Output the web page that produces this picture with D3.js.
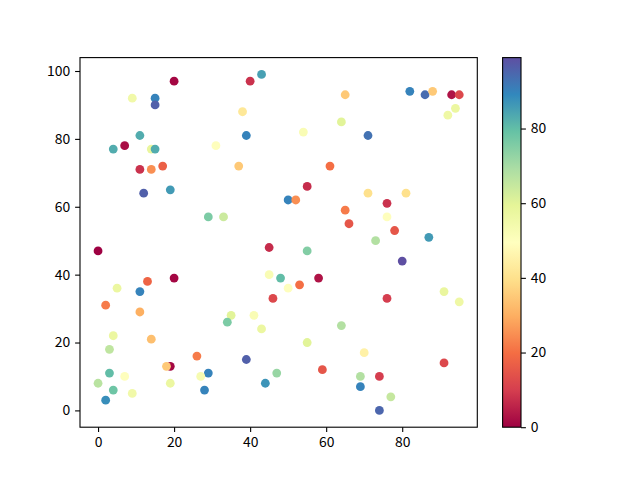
<!DOCTYPE html>
<html><head><meta charset="utf-8">
<script src="https://cdn.jsdelivr.net/npm/d3@7/dist/d3.min.js"></script>
<style>
html,body{margin:0;padding:0;background:#fff;}
text{font-family:"Noto Sans CJK SC","DejaVu Sans",sans-serif;}
</style></head>
<body><svg id="chart" width="640" height="480"></svg>
<script>
const xs = [20,40,43,9,15,15,38,11,39,7,4,14,15,31,11,14,17,37,65,82,86,88,93,95,94,92,64,54,71,61,55,12,19,29,33,0,45,45,48,20,13,5,11,46,2,50,52,71,81,76,65,76,66,78,87,73,55,80,58,50,53,76,91,95,11,35,41,34,43,4,14,3,26,39,19,18,3,29,7,27,0,19,47,4,28,9,44,2,64,55,70,59,91,69,74,69,77,74];
const ys = [97,97,99,92,92,90,88,81,81,78,77,77,77,78,71,71,72,72,93,94,93,94,93,93,89,87,85,82,81,72,66,64,65,57,57,47,48,40,39,39,38,36,35,33,31,62,62,64,64,61,59,57,55,53,51,50,47,44,39,36,37,33,35,32,29,28,28,26,24,22,21,18,16,15,13,13,11,11,10,10,8,8,11,6,6,5,8,3,25,20,17,12,14,10,10,7,4,0];
const cs = [1,8,85,55,90,96,42,83,90,2,83,58,83,50,8,25,17,35,35,90,94,35,3,12,57,56,60,52,93,20,7,96,86,76,64,0,7,52,80,1,18,57,90,12,22,90,25,40,40,8,22,50,15,15,86,68,75,99,3,50,20,10,58,56,30,60,52,76,57,57,33,66,22,96,1,35,80,90,50,53,67,57,72,78,90,55,87,88,68,60,45,15,12,68,10,90,65,95];
const xTicks = [0,20,40,60,80];
const yTicks = [0,20,40,60,80,100];
const cTicks = [0,20,40,60,80];
const spectral = ['#9e0142','#d53e4f','#f46d43','#fdae61','#fee08b','#ffffbf','#e6f598','#abdda4','#66c2a5','#3288bd','#5e4fa2'];

const svg = d3.select('#chart');
const L=80, R=477.3, T=57.6, B=427.2;
const x = d3.scaleLinear().domain([-4.75, 99.75]).range([L, R]);
const y = d3.scaleLinear().domain([-4.95, 103.95]).range([B, T]);
const cmin = d3.min(cs), cmax = d3.max(cs);
const cmap = d3.scaleLinear().domain(spectral.map((_, i) => i / 10)).range(spectral).interpolate(d3.interpolateRgb);
const color = v => cmap((v - cmin) / (cmax - cmin));

// points
svg.append('g').selectAll('circle').data(xs.map((d, i) => i)).join('circle')
  .attr('cx', i => x(xs[i])).attr('cy', i => y(ys[i])).attr('r', 4.4)
  .attr('fill', i => color(cs[i]));

// axes
const xAxis = d3.axisBottom(x).tickValues(xTicks).tickSize(4.9).tickPadding(4.9).tickFormat(d3.format('d'));
const yAxis = d3.axisLeft(y).tickValues(yTicks).tickSize(4.9).tickPadding(4.9).tickFormat(d3.format('d'));
const gx = svg.append('g').attr('transform', `translate(0,${B})`).call(xAxis);
const gy = svg.append('g').attr('transform', `translate(${L},0)`).call(yAxis);
[gx, gy].forEach(g => {
  g.select('.domain').remove();
  g.selectAll('line').attr('stroke', '#000').attr('stroke-width', 1.1);
  g.selectAll('text').attr('font-size', 13.9).attr('fill', '#000');
});
svg.append('rect').attr('x', L).attr('y', T).attr('width', R - L).attr('height', B - T)
  .attr('fill', 'none').attr('stroke', '#000').attr('stroke-width', 1.1);

// colorbar
const CL = 502.6, CR = 521, CT = 57.6, CB = 427.2;
const defs = svg.append('defs');
const grad = defs.append('linearGradient').attr('id', 'cbg').attr('x1', 0).attr('y1', 1).attr('x2', 0).attr('y2', 0);
spectral.forEach((c, i) => grad.append('stop').attr('offset', i / 10).attr('stop-color', c));
svg.append('rect').attr('x', CL).attr('y', CT).attr('width', CR - CL).attr('height', CB - CT).attr('fill', 'url(#cbg)');
const cy = d3.scaleLinear().domain([cmin, cmax]).range([CB, CT]);
const cAxis = d3.axisRight(cy).tickValues(cTicks).tickSize(4.9).tickPadding(4.9).tickFormat(d3.format('d'));
const gc = svg.append('g').attr('transform', `translate(${CR},0)`).call(cAxis);
gc.select('.domain').remove();
gc.selectAll('line').attr('stroke', '#000').attr('stroke-width', 1.1);
gc.selectAll('text').attr('font-size', 13.9).attr('fill', '#000');
svg.append('rect').attr('x', CL).attr('y', CT).attr('width', CR - CL).attr('height', CB - CT)
  .attr('fill', 'none').attr('stroke', '#000').attr('stroke-width', 1.1);
</script></body></html>
